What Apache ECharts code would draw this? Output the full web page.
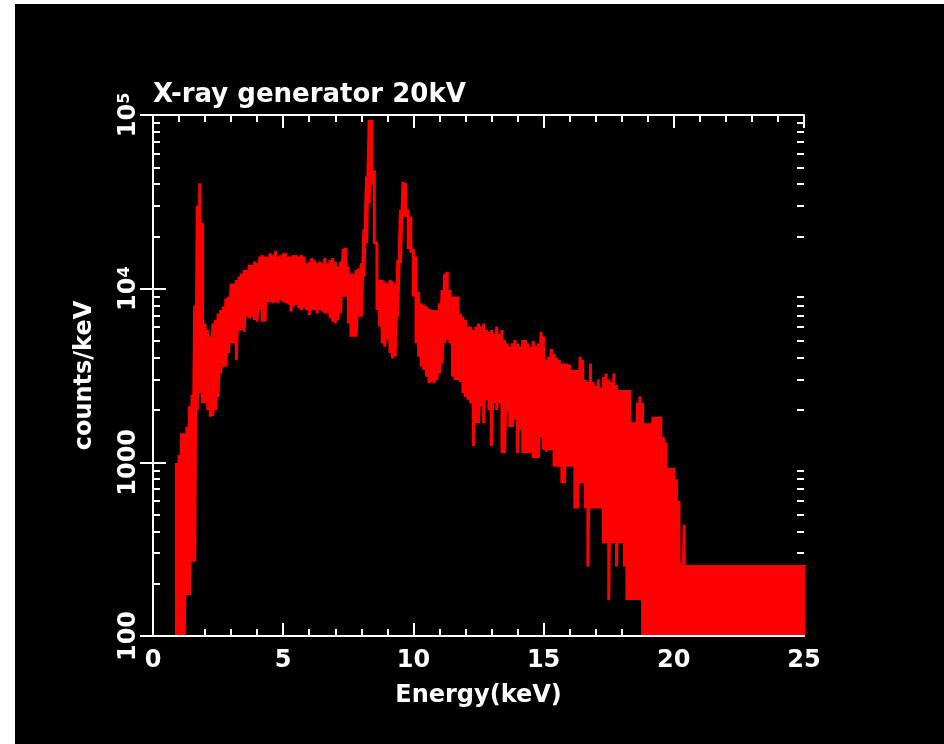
<!DOCTYPE html>
<html>
<head>
<meta charset="utf-8">
<title>X-ray generator 20kV</title>
<script src="https://cdn.jsdelivr.net/npm/echarts@6/dist/echarts.min.js"></script>
<style>
    html, body { margin: 0; padding: 0; background: #ffffff; }
    #spectrumChart { position: absolute; left: 15px; top: 4px; width: 929px; height: 740px; background: #000000; }
</style>
</head>
<body>
<div id="spectrumChart"></div>
<script>
// Energia de cada canal (keV): el primero y el paso
const E_START = 0.9;
const E_STEP = 0.1;

// Envolvente superior del espectro (counts/keV), 0.9 .. 25.0 keV
const countsHigh = [
    990, 1100,
    1470, 1470, 1600, 2100, 2450, 8000, 30000, 40400, 24000, 6300,
    5780, 5290, 6300, 6600, 7200, 7540, 7900, 8800, 9000, 10700,
    10700, 11200, 11700, 12200, 12800, 12800, 13700, 13700, 14300, 14000,
    15300, 15600, 15300, 15300, 16000, 15600, 16500, 15300, 15600, 16000,
    16000, 15300, 15300, 15600, 15600, 15300, 15600, 15300, 14000, 14300,
    15000, 14600, 14000, 14300, 14000, 15000, 14000, 14600, 15000, 14300,
    13400, 14300, 16900, 17200, 13400, 12200, 12200, 12800, 13100, 14000,
    22000, 44200, 93500, 93500, 48000, 18300, 11200, 11200, 11000, 10700,
    11200, 11000, 10700, 14600, 28400, 41300, 40400, 28400, 26000, 16900,
    15300, 9600, 8240, 8100, 7900, 7700, 7540, 7540, 7540, 8240,
    9820, 12200, 12500, 9820, 9000, 9000, 9000, 7200, 6900, 6600,
    6050, 6050, 5780, 6050, 6300, 6050, 6300, 5780, 5650, 5780,
    5500, 6050, 5500, 5780, 5060, 4840, 4630, 4840, 5060, 4840,
    4630, 5060, 5060, 4840, 4630, 5000, 4700, 4840, 5650, 5300,
    3900, 4060, 4500, 4200, 4000, 3900, 3710, 3710, 3710, 3650,
    3400, 3400, 3400, 4060, 3900, 2980, 2900, 3710, 2900, 2750,
    3000, 2700, 3100, 3250, 3000, 2900, 3250, 2800, 2610, 2610,
    2610, 2610, 2610, 1700, 1700, 2200, 2390, 2200, 1680, 1680,
    1680, 1830, 1830, 1830, 1830, 1400, 1300, 930, 930, 930,
    800, 600, 262, 435, 256, 256, 256, 256, 256, 256,
    256, 256, 256, 256, 256, 256, 256, 256, 256, 256,
    256, 256, 256, 256, 256, 256, 256, 256, 256, 256,
    256, 256, 256, 256, 256, 256, 256, 256, 256, 256,
    256, 256, 256, 256, 256, 256, 256, 256, 256, 256
];

// Envolvente inferior (100 = fondo de escala, canales sin cuentas)
const countsLow = [
    100, 100,
    100, 100, 172, 172, 268, 268, 2000, 2500, 2190, 2190,
    2000, 1830, 1850, 2000, 2380, 3250, 3550, 3550, 4250, 4840,
    4840, 3880, 5780, 5780, 5650, 6900, 6750, 6900, 6600, 6450,
    7540, 6450, 6450, 8400, 8400, 8240, 8400, 8240, 8600, 8400,
    8240, 8100, 7400, 7900, 8100, 7700, 7540, 7700, 7540, 7050,
    7540, 7540, 7200, 7540, 7400, 7200, 7200, 6750, 6450, 6300,
    6600, 7200, 9000, 9000, 6300, 5290, 5290, 5290, 6900, 6900,
    11700, 18300, 31000, 40000, 18300, 7540, 6050, 4840, 4630, 5060,
    4250, 3970, 4060, 6900, 14000, 26000, 26000, 16900, 16200, 9000,
    4840, 4060, 3550, 3400, 3110, 2850, 2900, 2850, 2980, 3250,
    3700, 4840, 5060, 4840, 3110, 2980, 2980, 2900, 2500, 2380,
    2280, 2190, 1240, 1680, 1680, 2100, 1680, 2280, 2000, 1240,
    2190, 2000, 2190, 1130, 1130, 2000, 1600, 1600, 1760, 1130,
    1540, 1130, 1130, 1130, 1130, 1060, 1060, 1060, 1400, 1180,
    1150, 1180, 1180, 945, 945, 945, 757, 757, 945, 945,
    945, 543, 543, 757, 757, 543, 251, 543, 543, 543,
    543, 543, 342, 342, 161, 342, 342, 251, 342, 342,
    251, 161, 161, 161, 161, 161, 161, 100, 100, 100,
    100, 100, 100, 100, 100, 100, 100, 100, 100, 100,
    100, 100, 100, 100, 100, 100, 100, 100, 100, 100,
    100, 100, 100, 100, 100, 100, 100, 100, 100, 100,
    100, 100, 100, 100, 100, 100, 100, 100, 100, 100,
    100, 100, 100, 100, 100, 100, 100, 100, 100, 100,
    100, 100, 100, 100, 100, 100, 100, 100, 100, 100
];

// Ejes
const xTickValues = [0, 5, 10, 15, 20, 25];
const xTickLabels = ['0', '5', '10', '15', '20', '25'];
const yTickValues = [100, 1000, 10000, 100000];
const yTickLabels = ['100', '1000', '10^4', '10^5'];
const yMinorTicks = [
    200, 300, 400, 500, 600, 700, 800, 900,
    2000, 3000, 4000, 5000, 6000, 7000, 8000, 9000,
    20000, 30000, 40000, 50000, 60000, 70000, 80000, 90000
];

const FONT = 'DejaVu Sans';
const WHITE = '#ffffff';

let spectrumChart = null;

function renderSpectrumChart() {
    const chartDom = document.getElementById('spectrumChart');

    // cada canal: un trazo de la cuenta alta a la baja (ruido del espectro)
    const spectrum = [];
    countsHigh.forEach(function (h, i) {
        const e = Math.round((E_START + i * E_STEP) * 10) / 10;
        spectrum.push([e, h], [e, countsLow[i]]);
    });

    const tickStyle = { color: WHITE, width: 2 };

    const xBase = {
        type: 'value',
        min: 0,
        max: 25,
        interval: 5,
        splitLine: { show: false },
        axisLine: { show: false, onZero: false },
        axisTick: { show: true, inside: true, length: 13, lineStyle: tickStyle },
        minorTick: { show: true, splitNumber: 5, length: 7, lineStyle: tickStyle },
        axisLabel: { show: false }
    };

    const yBase = {
        type: 'log',
        logBase: 10,
        min: 100,
        max: 100000,
        splitLine: { show: false },
        axisLine: { show: false },
        axisTick: { show: true, inside: true, length: 13, lineStyle: tickStyle },
        axisLabel: { show: false }
    };

    const option = {
        backgroundColor: '#000000',
        animation: false,
        title: {
            text: 'X-ray generator 20kV',
            left: 138,
            top: 78,
            padding: 0,
            textStyle: { color: WHITE, fontFamily: FONT, fontWeight: 'bold', fontSize: 26 }
        },
        grid: { left: 138, right: 140, top: 111, bottom: 108 },
        xAxis: [
            Object.assign({}, xBase, {
                position: 'bottom',
                name: 'Energy(keV)',
                nameLocation: 'middle',
                nameGap: 48,
                nameTextStyle: { color: WHITE, fontFamily: FONT, fontWeight: 'bold', fontSize: 24 },
                axisLabel: {
                    show: true,
                    color: WHITE,
                    fontFamily: FONT,
                    fontWeight: 'bold',
                    fontSize: 24,
                    margin: 13,
                    formatter: function (value) {
                        const idx = xTickValues.indexOf(value);
                        return idx >= 0 ? xTickLabels[idx] : '';
                    }
                }
            }),
            Object.assign({}, xBase, {
                position: 'top',
                z: 5,
                axisLine: { show: true, onZero: false, lineStyle: { color: WHITE, width: 2 } }
            }),
            // solo la linea de abajo, encima del espectro
            Object.assign({}, xBase, {
                position: 'bottom',
                z: 5,
                axisTick: { show: false },
                minorTick: { show: false },
                axisLine: { show: true, onZero: false, lineStyle: { color: WHITE, width: 2 } }
            })
        ],
        yAxis: [
            Object.assign({}, yBase, {
                position: 'left',
                z: 5,
                axisLine: { show: true, lineStyle: { color: WHITE, width: 2 } },
                name: 'counts/keV',
                nameLocation: 'middle',
                nameRotate: 90,
                nameGap: 56,
                nameTextStyle: { color: WHITE, fontFamily: FONT, fontWeight: 'bold', fontSize: 24 },
                axisLabel: {
                    show: true,
                    rotate: 90,
                    margin: 12,
                    color: WHITE,
                    fontFamily: FONT,
                    fontWeight: 'bold',
                    fontSize: 24,
                    formatter: function (value) {
                        const idx = yTickValues.indexOf(Math.round(value));
                        const text = idx >= 0 ? yTickLabels[idx] : '';
                        const parts = text.split('^');
                        return parts.length === 2 ? '{b|' + parts[0] + '}{s|' + parts[1] + '}' : text;
                    },
                    rich: {
                        b: { color: WHITE, fontFamily: FONT, fontWeight: 'bold', fontSize: 24 },
                        s: { color: WHITE, fontFamily: FONT, fontWeight: 'bold', fontSize: 16, verticalAlign: 'top' }
                    }
                }
            }),
            Object.assign({}, yBase, {
                position: 'left',
                axisTick: { show: true, inside: true, length: 7, lineStyle: tickStyle, customValues: yMinorTicks }
            }),
            Object.assign({}, yBase, {
                position: 'right',
                z: 5,
                axisLine: { show: true, lineStyle: { color: WHITE, width: 2 } }
            }),
            Object.assign({}, yBase, {
                position: 'right',
                axisTick: { show: true, inside: true, length: 7, lineStyle: tickStyle, customValues: yMinorTicks }
            })
        ],
        series: [
            {
                name: 'counts/keV',
                type: 'line',
                xAxisIndex: 0,
                yAxisIndex: 0,
                data: spectrum,
                symbol: 'none',
                showSymbol: false,
                clip: true,
                silent: true,
                lineStyle: { color: '#ff0000', width: 3 }
            }
        ]
    };

    spectrumChart = echarts.init(chartDom);
    spectrumChart.setOption(option);

    window.addEventListener('resize', function () {
        spectrumChart.resize();
    });
}

document.addEventListener('DOMContentLoaded', renderSpectrumChart);
</script>
</body>
</html>
